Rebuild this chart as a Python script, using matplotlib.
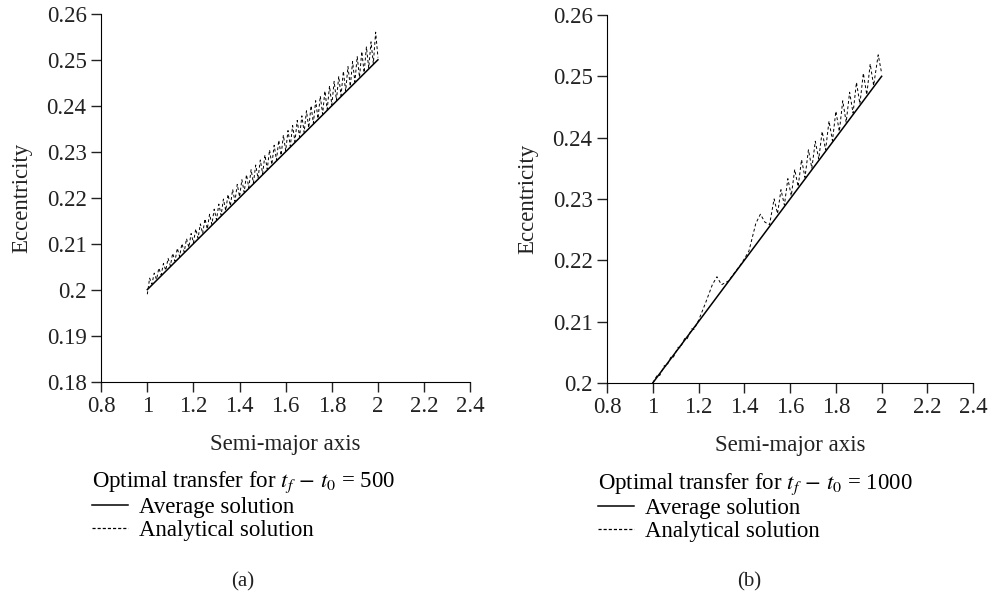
import matplotlib
matplotlib.use("Agg")
import matplotlib.pyplot as plt
from matplotlib.lines import Line2D

plt.rcParams['font.family'] = ['Liberation Serif', 'DejaVu Serif']
plt.rcParams['mathtext.fontset'] = 'stix'
plt.rcParams['font.size'] = 16.5

# data
x_ticks = [0.8, 1.0, 1.2, 1.4, 1.6, 1.8, 2.0, 2.2, 2.4]
x_tick_labels = ['0.8', '1', '1.2', '1.4', '1.6', '1.8', '2', '2.2', '2.4']

avg_a = [1.0, 2.0]
avg_e = [0.2, 0.25]

# (a) tf - t0 = 500
ana_a_500 = [1.00, 1.01, 1.02, 1.03, 1.04, 1.05, 1.06, 1.07, 1.08, 1.09,
             1.10, 1.11, 1.12, 1.13, 1.14, 1.15, 1.16, 1.17, 1.18, 1.19,
             1.20, 1.21, 1.22, 1.23, 1.24, 1.25, 1.26, 1.27, 1.28, 1.29,
             1.30, 1.31, 1.32, 1.33, 1.34, 1.35, 1.36, 1.37, 1.38, 1.39,
             1.40, 1.41, 1.42, 1.43, 1.44, 1.45, 1.46, 1.47, 1.48, 1.49,
             1.50, 1.51, 1.52, 1.53, 1.54, 1.55, 1.56, 1.57, 1.58, 1.59,
             1.60, 1.61, 1.62, 1.63, 1.64, 1.65, 1.66, 1.67, 1.68, 1.69,
             1.70, 1.71, 1.72, 1.73, 1.74, 1.75, 1.76, 1.77, 1.78, 1.79,
             1.80, 1.81, 1.82, 1.83, 1.84, 1.85, 1.86, 1.87, 1.88, 1.89,
             1.90, 1.91, 1.92, 1.93, 1.94, 1.95, 1.96, 1.97, 1.98, 1.99,
             2.00]
ana_e_500 = [0.1990, 0.2025, 0.2012, 0.2036, 0.2022, 0.2047, 0.2032, 0.2057, 0.2042, 0.2068,
             0.2052, 0.2079, 0.2062, 0.2090, 0.2072, 0.2100, 0.2082, 0.2111, 0.2092, 0.2122,
             0.2102, 0.2132, 0.2112, 0.2143, 0.2122, 0.2154, 0.2132, 0.2164, 0.2142, 0.2175,
             0.2152, 0.2186, 0.2162, 0.2197, 0.2172, 0.2207, 0.2182, 0.2218, 0.2192, 0.2229,
             0.2202, 0.2239, 0.2212, 0.2250, 0.2222, 0.2261, 0.2232, 0.2271, 0.2242, 0.2282,
             0.2252, 0.2293, 0.2262, 0.2304, 0.2272, 0.2314, 0.2282, 0.2325, 0.2292, 0.2336,
             0.2302, 0.2346, 0.2312, 0.2357, 0.2322, 0.2368, 0.2332, 0.2378, 0.2342, 0.2389,
             0.2352, 0.2400, 0.2362, 0.2411, 0.2372, 0.2421, 0.2382, 0.2432, 0.2392, 0.2443,
             0.2402, 0.2453, 0.2412, 0.2464, 0.2422, 0.2475, 0.2432, 0.2485, 0.2442, 0.2496,
             0.2452, 0.2507, 0.2462, 0.2518, 0.2472, 0.2528, 0.2482, 0.2539, 0.2492, 0.2560,
             0.2505]

# (b) tf - t0 = 1000
ana_a_1000 = [1.00, 1.02, 1.03, 1.05, 1.06, 1.08, 1.09, 1.11, 1.12, 1.14,
              1.15, 1.17, 1.18, 1.20, 1.23, 1.26, 1.28, 1.30, 1.33, 1.36,
              1.39, 1.42, 1.45, 1.47, 1.49, 1.51, 1.53, 1.545, 1.56, 1.575,
              1.59, 1.605, 1.62, 1.635, 1.65, 1.665, 1.68, 1.695, 1.71, 1.725,
              1.74, 1.755, 1.77, 1.785, 1.80, 1.815, 1.83, 1.845, 1.86, 1.875,
              1.89, 1.905, 1.92, 1.935, 1.95, 1.965, 1.985, 2.00]
ana_e_1000 = [0.2000, 0.2013, 0.2012, 0.2028, 0.2027, 0.2043, 0.2042, 0.2058, 0.2057, 0.2073,
              0.2072, 0.2088, 0.2087, 0.2102, 0.2130, 0.2160, 0.2173, 0.2160, 0.2166, 0.2181,
              0.2196, 0.2215, 0.2260, 0.2275, 0.2262, 0.2258, 0.2300, 0.2276, 0.2315, 0.2290,
              0.2333, 0.2305, 0.2348, 0.2320, 0.2364, 0.2335, 0.2380, 0.2350, 0.2394, 0.2365,
              0.2410, 0.2380, 0.2427, 0.2395, 0.2443, 0.2410, 0.2460, 0.2425, 0.2474, 0.2440,
              0.2490, 0.2455, 0.2505, 0.2470, 0.2520, 0.2485, 0.2535, 0.2505]

panels = [
    dict(rect=[0.102, 0.364, 0.372, 0.613], a=ana_a_500, e=ana_e_500,
         ylim=(0.18, 0.26), yticks=[0.18, 0.19, 0.2, 0.21, 0.22, 0.23, 0.24, 0.25, 0.26],
         ylabels=['0.18', '0.19', '0.2', '0.21', '0.22', '0.23', '0.24', '0.25', '0.26'],
         title='Optimal transfer for $t_f\\,-\\,t_0$ = 500', tag='(a)', tag_x=0.245),
    dict(rect=[0.612, 0.362, 0.369, 0.613], a=ana_a_1000, e=ana_e_1000,
         ylim=(0.2, 0.26), yticks=[0.2, 0.21, 0.22, 0.23, 0.24, 0.25, 0.26],
         ylabels=['0.2', '0.21', '0.22', '0.23', '0.24', '0.25', '0.26'],
         title='Optimal transfer for $t_f\\,-\\,t_0$ = 1000', tag='(b)', tag_x=0.755),
]

fig = plt.figure(figsize=(9.92, 6.0), dpi=100)
text_color = '#222222'

for p in panels:
    ax = fig.add_axes(p['rect'])
    ax.plot(avg_a, avg_e, color='black', lw=1.1)
    ax.plot(p['a'], p['e'], color='black', lw=0.7, linestyle=(0, (3, 2.5)))
    ax.set_xlim(0.8, 2.4)
    ax.set_ylim(*p['ylim'])
    ax.set_xticks(x_ticks)
    ax.set_xticklabels(x_tick_labels)
    ax.set_yticks(p['yticks'])
    ax.set_yticklabels(p['ylabels'])
    ax.spines['top'].set_visible(False)
    ax.spines['right'].set_visible(False)
    ax.tick_params(direction='out', length=7, width=1, colors=text_color, labelsize=16.5)
    ax.set_xlabel('Semi-major axis', fontsize=16.5, color=text_color, labelpad=12)
    ax.set_ylabel('Eccentricity', fontsize=16.5, color=text_color, labelpad=10)

    handles = [Line2D([], [], color='black', lw=1.1),
               Line2D([], [], color='black', lw=0.9, linestyle=(0, (2.5, 1.6)))]
    ax.legend(handles, ['Average solution', 'Analytical solution'],
              title=p['title'], title_fontsize=16.5, fontsize=16.5,
              loc='upper left', bbox_to_anchor=(-0.024, -0.24),
              frameon=False, alignment='left', borderpad=0, borderaxespad=0,
              handlelength=1.55, handletextpad=0.48, labelspacing=0.08)
    fig.text(p['tag_x'], 0.03, p['tag'], ha='center', va='center',
             fontsize=15, color=text_color)

fig.savefig('out.png', dpi=100)
